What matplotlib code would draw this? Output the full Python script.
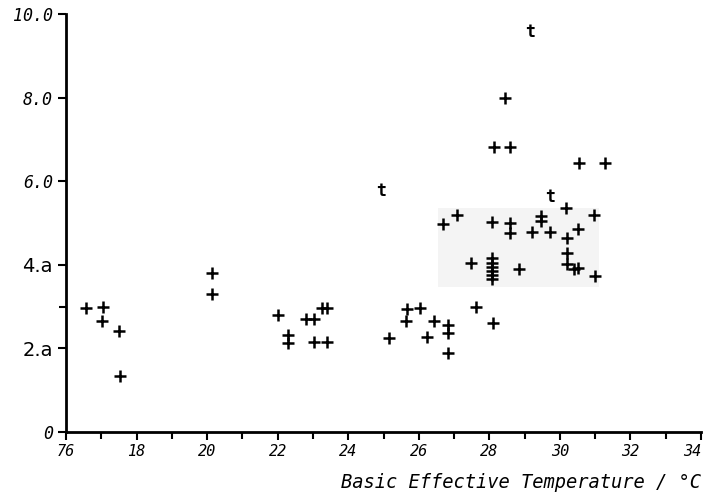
import matplotlib
matplotlib.use("Agg")
from matplotlib import pyplot as plt, patches
import numpy as np

# basic effective temperature (deg C) and response value
temp = [16.57, 17.05, 17.02, 17.50, 17.53, 20.15, 20.15,
        22.00, 22.28, 22.28, 22.79, 23.02, 23.02, 23.39, 23.27, 23.41,
        25.15, 25.66, 25.63, 26.03, 26.43, 26.23, 26.82, 26.82, 26.82,
        27.62, 28.10,
        26.68, 27.08, 28.07, 28.58, 28.58, 29.20, 29.72, 29.47, 29.47,
        30.18, 30.97, 30.52, 30.20, 30.20, 30.20, 30.40, 31.00, 27.48,
        28.07, 28.07, 28.07, 28.07, 28.07, 28.07, 28.84, 30.52,
        28.44, 28.13, 28.58, 30.55, 31.28]
value = [2.97, 2.99, 2.66, 2.42, 1.34, 3.80, 3.30,
         2.80, 2.32, 2.13, 2.70, 2.70, 2.15, 2.15, 2.97, 2.97,
         2.25, 2.94, 2.66, 2.97, 2.66, 2.27, 2.56, 2.37, 1.89,
         2.99, 2.61,
         4.98, 5.19, 5.02, 5.00, 4.77, 4.78, 4.78, 5.17, 5.05,
         5.36, 5.19, 4.86, 4.64, 4.28, 4.02, 3.90, 3.73, 4.04,
         4.16, 4.04, 3.95, 3.85, 3.76, 3.66, 3.90, 3.92,
         7.99, 6.82, 6.82, 6.44, 6.44]

# points that came out of the scan as a "t"
t_temp = [29.15, 24.92, 29.72]
t_value = [9.57, 5.77, 5.63]

xticks = [16, 18, 20, 22, 24, 26, 28, 30, 32, 34]
xtick_labels = ['76', '18', '20', '22', '24', '26', '28', '30', '32', '34']
yticks = [0, 2, 4, 6, 8, 10]
ytick_labels = ['0', '2.a', '4.a', '6.0', '8.0', '10.0']

fig = plt.figure(figsize=(7.04, 4.95), dpi=100)
ax = fig.add_axes([66/704, 63/495, 635/704, 418/495])

# light grey box behind the upper cluster
ax.add_patch(patches.Rectangle((26.55, 3.47), 4.55, 1.9,
                               facecolor='#f4f4f4', edgecolor='none', zorder=0))

ax.plot(temp, value, linestyle='none', marker='+', ms=9, mew=1.8,
        color='black', zorder=3)
for tx, ty in zip(t_temp, t_value):
    ax.text(tx, ty, 't', ha='center', va='center', fontsize=12,
            family='DejaVu Sans Mono', fontweight='bold', color='black')

ax.set_xlim(16, 34)
ax.set_ylim(0, 10)
for side in ['top', 'right']:
    ax.spines[side].set_visible(False)
for side in ['left', 'bottom']:
    ax.spines[side].set_linewidth(2)

ax.set_xticks(xticks)
ax.set_xticklabels(xtick_labels, family='DejaVu Sans Mono', style='italic',
                   fontsize=11)
ax.get_xticklabels()[-1].set_horizontalalignment('right')
ax.set_xticks(np.arange(17, 34, 2), minor=True)
ax.set_yticks(yticks)
ax.set_yticklabels(ytick_labels, family='DejaVu Sans Mono', style='italic',
                   fontsize=12)
for lab in ax.get_yticklabels():
    if lab.get_text().endswith('a'):
        lab.set_family('DejaVu Sans')
        lab.set_style('normal')
        lab.set_fontsize(14)
ax.set_yticks([3], minor=True)
ax.tick_params(which='major', length=6, width=1.5, direction='out')
ax.tick_params(which='minor', length=5, width=1.5, direction='out')
ax.tick_params(axis='x', pad=3)

ax.set_xlabel('Basic Effective Temperature / \N{DEGREE SIGN}C',
              family='DejaVu Sans Mono', style='italic', fontsize=13.5,
              loc='right', labelpad=10)

fig.savefig('out.png', dpi=100)
